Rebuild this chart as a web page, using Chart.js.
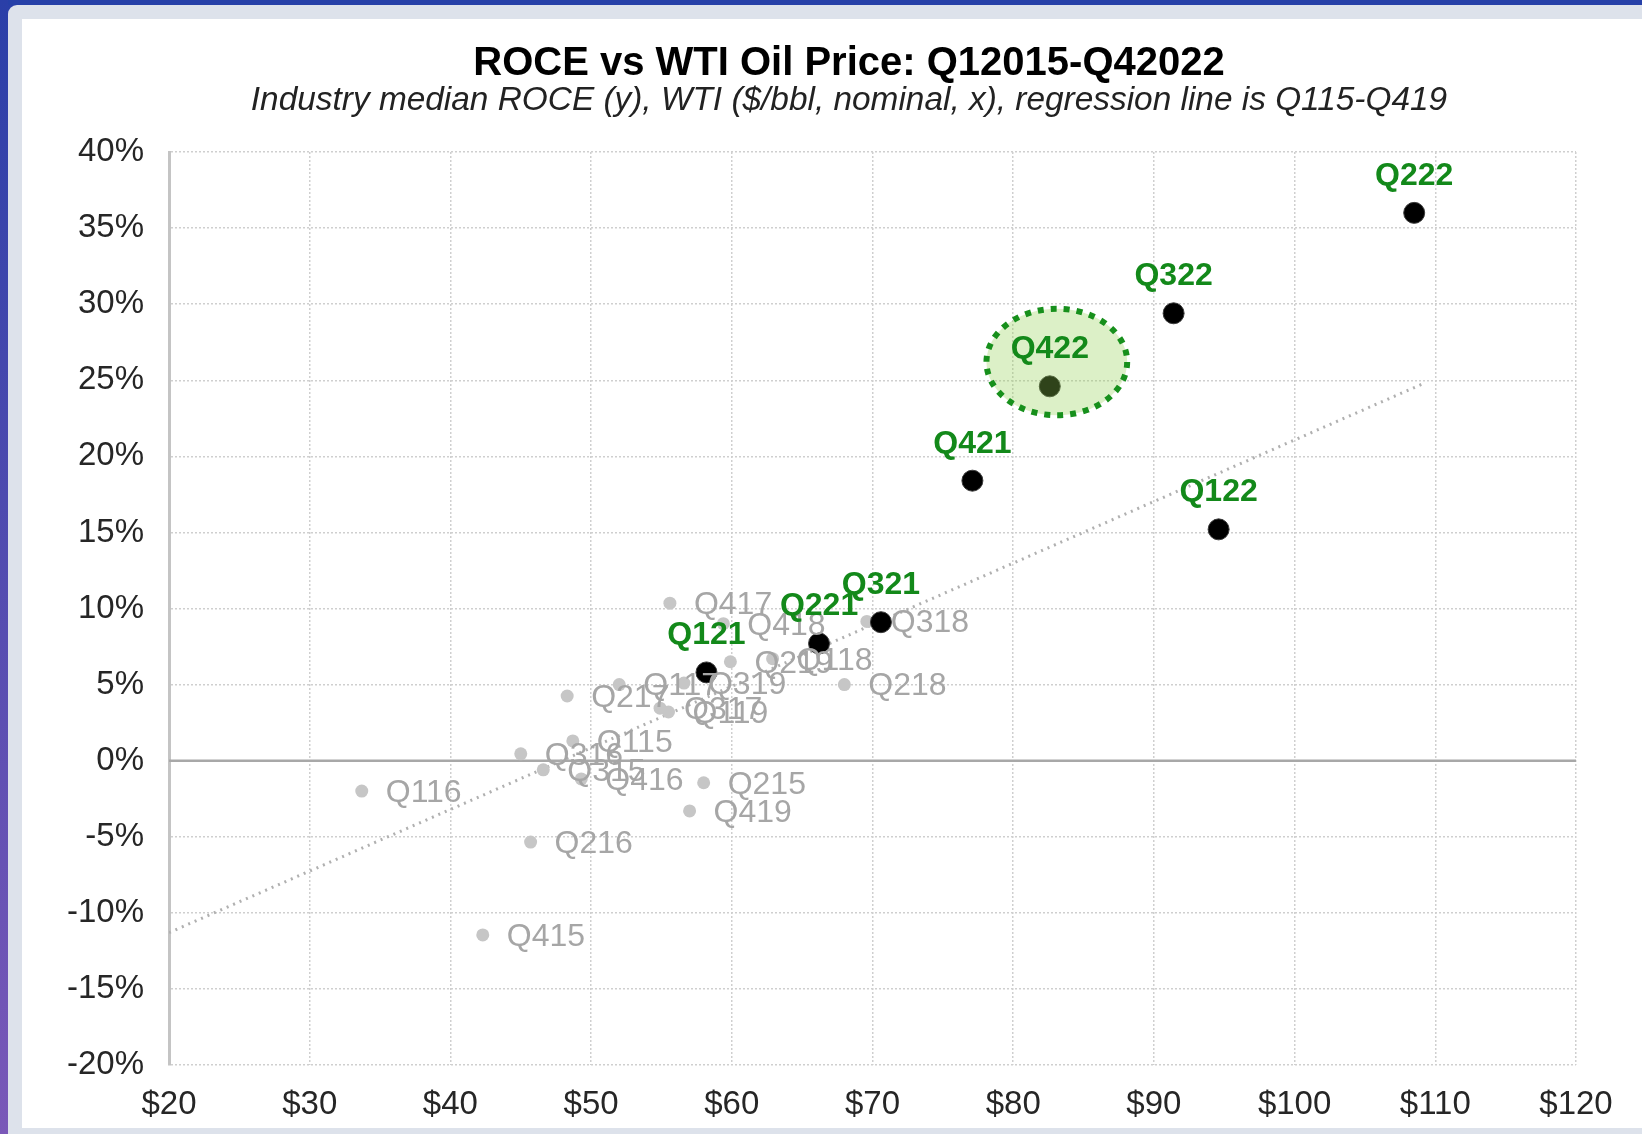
<!DOCTYPE html>
<html>
<head>
<meta charset="utf-8">
<script src="https://cdn.jsdelivr.net/npm/chart.js@4.4.1/dist/chart.umd.min.js"></script>
<style>
  html, body { margin: 0; padding: 0; width: 1642px; height: 1134px; overflow: hidden; background: #2a3fa8; }
  #topbar { position: absolute; left: 0; top: 0; width: 1642px; height: 5px; background: #2640a8; }
  #leftbar { position: absolute; left: 0; top: 0; width: 8px; height: 1134px; background: linear-gradient(#2a3fa8, #7a58b8); }
  #band { position: absolute; left: 8px; top: 5px; width: 1634px; height: 1129px; background: #dde2eb; border-top-left-radius: 9px; }
  #panel { position: absolute; left: 22px; top: 19px; width: 1620px; height: 1109px; background: #ffffff; }
  #wrap { position: absolute; left: 0; top: 0; width: 1642px; height: 1134px; }
</style>
</head>
<body>
<div id="topbar"></div>
<div id="leftbar"></div>
<div id="band"></div>
<div id="panel"></div>
<div id="wrap"><canvas id="c" width="1642" height="1134"></canvas></div>
<script>
// ---- Data ----
const grayLabels = ['Q115','Q215','Q315','Q415','Q116','Q216','Q316','Q416','Q117','Q217','Q317','Q417','Q118','Q218','Q318','Q418','Q119','Q219','Q319','Q419'];
const grayX = [48.7, 58.0, 46.6, 42.3, 33.7, 45.7, 45.0, 49.3, 52.0, 48.3, 54.9, 55.6, 62.9, 68.0, 69.6, 59.4, 55.5, 59.9, 56.6, 57.0];
const grayY = [1.3, -1.45, -0.6, -11.45, -2.0, -5.35, 0.45, -1.2, 5.0, 4.25, 3.45, 10.35, 6.7, 5.0, 9.15, 9.0, 3.2, 6.5, 5.1, -3.3];

const darkLabels = ['Q121','Q221','Q321','Q421','Q122','Q222','Q322','Q422'];
const darkX = [58.2, 66.2, 70.6, 77.1, 94.6, 108.5, 91.4, 82.6];
const darkY = [5.8, 7.7, 9.1, 18.4, 15.2, 36.0, 29.4, 24.6];

const regX = [20, 109.2];
const regY = [-11.3, 24.8];

const xTicks = [20, 30, 40, 50, 60, 70, 80, 90, 100, 110, 120];
const yTicks = [-20, -15, -10, -5, 0, 5, 10, 15, 20, 25, 30, 35, 40];

const titleText = 'ROCE vs WTI Oil Price: Q12015-Q42022';
const subtitleText = 'Industry median ROCE (y), WTI ($/bbl, nominal, x), regression line is Q115-Q419';

// highlighted quarter (ellipse around Q422), in data units
const highlight = { x: 83.1, y: 26.2, rx: 5.0, ry: 3.5 };

const FONT = "'Liberation Sans', Arial, sans-serif";
const GREEN = '#13891a';
const GRAYTXT = '#a6a6a6';

const toPts = (xs, ys) => xs.map((x, i) => ({ x: x, y: ys[i] }));

const decorPlugin = {
  id: 'decor',
  beforeDraw(chart) {
    const { ctx } = chart;
    ctx.save();
    ctx.textAlign = 'center';
    ctx.textBaseline = 'middle';
    ctx.fillStyle = '#000000';
    ctx.font = 'bold 40px ' + FONT;
    ctx.fillText(titleText, 849, 64);
    ctx.fillStyle = '#222222';
    ctx.font = 'italic 33.4px ' + FONT;
    ctx.fillText(subtitleText, 849, 101);
    ctx.restore();
  },
  beforeDatasetsDraw(chart) {
    const { ctx, chartArea, scales } = chart;
    const y0 = scales.y.getPixelForValue(0);
    ctx.save();
    ctx.strokeStyle = '#a8a8a8';
    ctx.lineWidth = 2.5;
    ctx.beginPath();
    ctx.moveTo(chartArea.left, y0);
    ctx.lineTo(chartArea.right, y0);
    ctx.stroke();
    ctx.restore();
  },
  afterDatasetsDraw(chart) {
    const { ctx, scales } = chart;
    const xs = scales.x, ys = scales.y;
    ctx.save();
    // highlight ellipse
    const cx = xs.getPixelForValue(highlight.x);
    const cy = ys.getPixelForValue(highlight.y);
    const rx = Math.abs(xs.getPixelForValue(highlight.x + highlight.rx) - cx);
    const ry = Math.abs(ys.getPixelForValue(highlight.y + highlight.ry) - cy);
    ctx.beginPath();
    ctx.ellipse(cx, cy, rx, ry, 0, 0, Math.PI * 2);
    ctx.fillStyle = 'rgba(146, 208, 80, 0.32)';
    ctx.fill();
    ctx.setLineDash([6, 7]);
    ctx.lineWidth = 6;
    ctx.strokeStyle = '#17901c';
    ctx.stroke();
    ctx.setLineDash([]);

    // gray labels (right of dots)
    ctx.font = '32px ' + FONT;
    ctx.fillStyle = GRAYTXT;
    ctx.textAlign = 'left';
    ctx.textBaseline = 'middle';
    grayLabels.forEach((lab, i) => {
      ctx.fillText(lab, xs.getPixelForValue(grayX[i]) + 24, ys.getPixelForValue(grayY[i]) + 2);
    });
    // green labels (above dots)
    ctx.font = 'bold 32px ' + FONT;
    ctx.fillStyle = GREEN;
    ctx.textAlign = 'center';
    darkLabels.forEach((lab, i) => {
      ctx.fillText(lab, xs.getPixelForValue(darkX[i]), ys.getPixelForValue(darkY[i]) - 37);
    });
    ctx.restore();
  }
};

new Chart(document.getElementById('c'), {
  type: 'scatter',
  data: {
    datasets: [
      {
        label: 'Regression',
        data: toPts(regX, regY),
        showLine: true,
        borderColor: '#b0b0b0',
        borderWidth: 3,
        borderDash: [2, 5],
        pointRadius: 0,
        fill: false,
        order: 3
      },
      {
        label: '2015-2019',
        data: toPts(grayX, grayY),
        backgroundColor: '#c6c6c6',
        borderColor: '#c6c6c6',
        pointRadius: 6.5,
        borderWidth: 0,
        order: 2
      },
      {
        label: '2021-2022',
        data: toPts(darkX, darkY),
        backgroundColor: '#000000',
        borderColor: '#3a3a3a',
        pointRadius: 10.5,
        borderWidth: 1,
        order: 1
      }
    ]
  },
  options: {
    responsive: false,
    animation: false,
    events: [],
    layout: { padding: { left: 0, right: 66, top: 152, bottom: 0 } },
    plugins: {
      legend: { display: false },
      tooltip: { enabled: false },
      title: { display: false },
      subtitle: { display: false }
    },
    scales: {
      x: {
        type: 'linear',
        min: 20, max: 120,
        afterBuildTicks(scale) { scale.ticks = xTicks.map(v => ({ value: v })); },
        afterFit(scale) { scale.height = 69; },
        ticks: {
          color: '#262626',
          font: { family: FONT, size: 33 },
          padding: 20,
          maxRotation: 0,
          callback: v => '$' + v
        },
        grid: { color: '#cfcfcf', lineWidth: 1.5, drawTicks: false },
        border: { display: false, dash: [2, 2] }
      },
      y: {
        type: 'linear',
        min: -20, max: 40,
        afterBuildTicks(scale) { scale.ticks = yTicks.map(v => ({ value: v })); },
        afterFit(scale) { scale.width = 169; },
        ticks: {
          color: '#262626',
          font: { family: FONT, size: 33 },
          padding: 25,
          callback: v => v + '%'
        },
        grid: { color: '#cfcfcf', lineWidth: 1.5, drawTicks: false },
        border: { display: true, color: '#c4c4c4', width: 3, dash: [2, 2] }
      }
    }
  },
  plugins: [decorPlugin]
});
</script>
</body>
</html>
